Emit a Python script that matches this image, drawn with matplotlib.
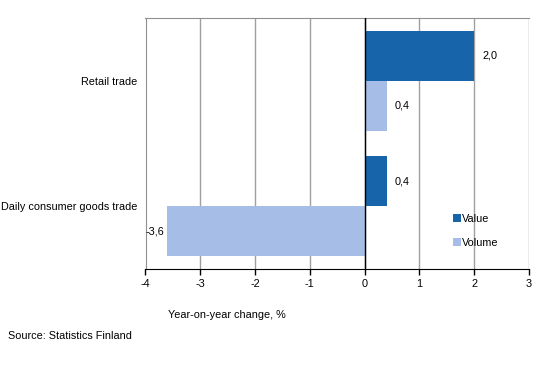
import matplotlib
matplotlib.use("Agg")
import matplotlib.pyplot as plt
import numpy as np

categories = ["Retail trade", "Daily consumer goods trade"]
value = [2.0, 0.4]
volume = [0.4, -3.6]
series_names = ["Value", "Volume"]
xticks = [-4, -3, -2, -1, 0, 1, 2, 3]

plt.rcParams["font.family"] = ["Liberation Sans", "DejaVu Sans"]
plt.rcParams["font.size"] = 7.8

fig = plt.figure(figsize=(5.41, 3.65), dpi=100)
ax = fig.add_axes([145.5 / 541, 1 - 269 / 365, (529 - 145.5) / 541, (269 - 18) / 365])

pos = np.arange(len(categories))
h = 0.4
ax.barh(pos - h / 2, value, height=h, color="#1764ab", label=series_names[0], zorder=3)
ax.barh(pos + h / 2, volume, height=h, color="#a6bde8", label=series_names[1], zorder=3)

# value labels, comma decimals
for ys, vals in [(pos - h / 2, value), (pos + h / 2, volume)]:
    for y, v in zip(ys, vals):
        txt = f"{v:.1f}".replace(".", ",")
        if v >= 0:
            ax.annotate(txt, (v, y), xytext=(6, 0), textcoords="offset points",
                        ha="left", va="center")
        else:
            ax.annotate(txt, (v, y), xytext=(-2, 0), textcoords="offset points",
                        ha="right", va="center")

ax.set_xlim(-4, 3)
ax.set_ylim(1.5, -0.5)
ax.set_xticks(xticks)
ax.set_xticklabels([str(t) for t in xticks])
ax.set_yticks(pos)
ax.set_yticklabels(categories, fontsize=7.85)
ax.tick_params(axis="y", length=0, pad=6)
ax.tick_params(axis="x", direction="out", length=4, width=1, color="black", pad=3)

ax.grid(axis="x", color="#a0a0a0", linewidth=1, zorder=0)
ax.axvline(0, color="black", linewidth=1, zorder=4)
for s in ["top", "left"]:
    ax.spines[s].set_color("#909090")
ax.spines["right"].set_visible(False)
ax.spines["bottom"].set_color("black")

ax.legend(loc="upper left", bbox_to_anchor=(453 / 541, 1 - 214 / 365),
          bbox_transform=fig.transFigure, frameon=False,
          handlelength=0.7, handleheight=0.7, handletextpad=0.15,
          labelspacing=1.25, borderaxespad=0, borderpad=0)

fig.text(168 / 541, 1 - 315 / 365, "Year-on-year change, %", ha="left", va="center")
fig.text(8 / 541, 1 - 336 / 365, "Source: Statistics Finland", ha="left", va="center")

fig.savefig("out.png", dpi=100)
